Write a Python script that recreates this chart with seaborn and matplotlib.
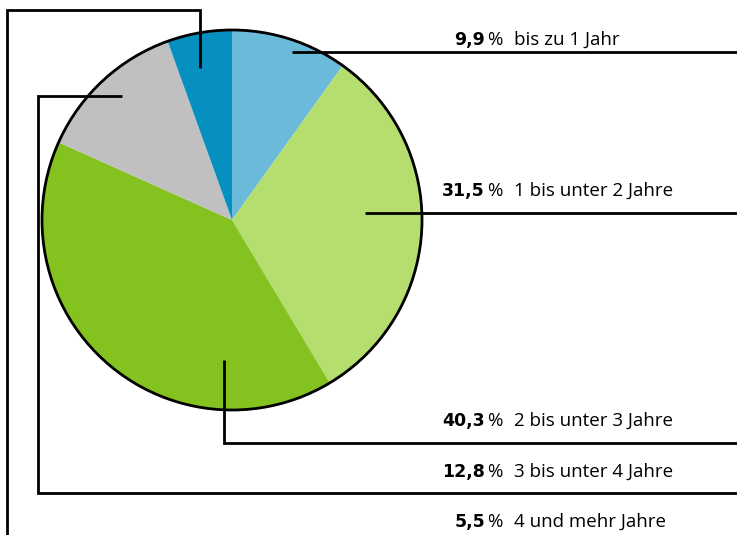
import matplotlib
matplotlib.use("Agg")
import matplotlib.pyplot as plt
import seaborn as sns

# Share of cases by duration
categories = ["bis zu 1 Jahr", "1 bis unter 2 Jahre", "2 bis unter 3 Jahre",
              "3 bis unter 4 Jahre", "4 und mehr Jahre"]
shares = [9.9, 31.5, 40.3, 12.8, 5.5]
share_labels = ["9,9", "31,5", "40,3", "12,8", "5,5"]
colors = ["#6bbad9", "#b5de6e", "#84c31f", "#c0c0c0", "#0690c0"]

sns.set_theme(style="white")
plt.rcParams["font.family"] = ["Open Sans", "DejaVu Sans"]

W, H = 737, 535
fig = plt.figure(figsize=(W / 100, H / 100), dpi=100)
ax = fig.add_axes([0, 0, 1, 1])

cx, cy, r = 232, H - 220, 190
ax.pie(shares, colors=colors, startangle=90, counterclock=False,
       center=(cx, cy), radius=r, frame=True, wedgeprops=dict(linewidth=0))
ax.set_xlim(0, W)
ax.set_ylim(0, H)
ax.set_axis_off()
ax.add_patch(plt.Circle((cx, cy), r, fill=False, edgecolor="black", lw=2, zorder=3))

def y(p):
    return H - p

line_kw = dict(color="black", lw=2, solid_capstyle="butt",
               solid_joinstyle="miter", zorder=4)
# leader lines, in pixel coordinates (top origin)
leaders = [
    [(292, 52), (737, 52)],
    [(365, 213), (737, 213)],
    [(224, 360), (224, 443), (737, 443)],
    [(122, 96), (38, 96), (38, 493), (737, 493)],
    [(200, 68), (200, 10), (7, 10), (7, 536)],
]
for pts in leaders:
    ax.plot([p[0] for p in pts], [y(p[1]) for p in pts], **line_kw)

text_y = [40, 191, 421, 472, 522]
for lab, cat, ty in zip(share_labels, categories, text_y):
    ax.text(485, y(ty), lab, ha="right", va="center", fontsize=12.5,
            fontweight="bold", family=["DejaVu Sans"], color="black")
    ax.text(503, y(ty), "%", ha="right", va="center", fontsize=13.5, color="black")
    ax.text(514, y(ty), cat, ha="left", va="center", fontsize=13.5, color="black")

fig.savefig("out.png", dpi=100)
